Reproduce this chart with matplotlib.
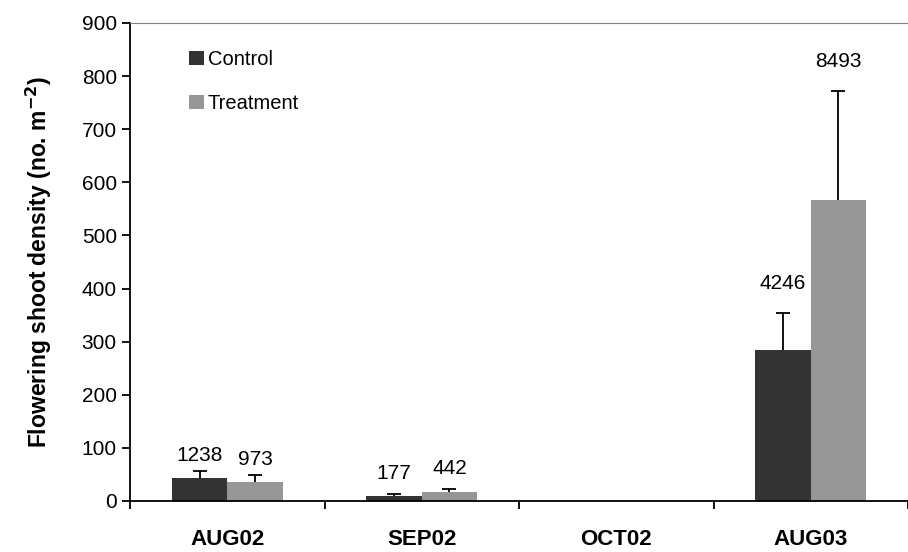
import numpy as np
import matplotlib.pyplot as plt

plt.rcParams['font.family'] = ['Liberation Sans', 'DejaVu Sans']
plt.rcParams['mathtext.default'] = 'regular'

# data
months = ['AUG02', 'SEP02', 'OCT02', 'AUG03']
control = [43, 9, 0.4, 284]
control_err = [13, 4, 0, 70]
treatment = [36, 17, 0.4, 567]
treatment_err = [13, 6, 0, 205]
control_labels = ['1238', '177', '', '4246']
treatment_labels = ['973', '442', '', '8493']

fig = plt.figure(figsize=(9.08, 5.52), dpi=100)
ax = fig.add_axes([130 / 908, 51 / 552, 778 / 908, 478 / 552])

x = np.arange(len(months))
w = 0.285
ax.bar(x - w / 2, control, w, color='#333333', label='Control', zorder=2)
ax.bar(x + w / 2, treatment, w, color='#969696', label='Treatment', zorder=2)

# upper error bars only
for xs, vals, errs in [(x - w / 2, control, control_err), (x + w / 2, treatment, treatment_err)]:
    keep = np.array(errs) > 0
    eb = ax.errorbar(xs[keep], np.array(vals)[keep], yerr=[np.zeros(keep.sum()), np.array(errs)[keep]],
                     fmt='none', ecolor='black', elinewidth=1.3, capsize=5, capthick=1.3, zorder=3)
    eb[1][0].set_visible(False)

# numbers above the bars (gap grows a bit for the tall group, as in the original)
gaps = [12, 20, 0, 38]
for i in range(len(months)):
    if control_labels[i]:
        ax.text(x[i] - w / 2, control[i] + control_err[i] + gaps[i], control_labels[i],
                ha='center', va='bottom', fontsize=15)
    if treatment_labels[i]:
        ax.text(x[i] + w / 2, treatment[i] + treatment_err[i] + gaps[i], treatment_labels[i],
                ha='center', va='bottom', fontsize=15)

ax.set_ylim(0, 900)
ax.set_xlim(-0.5, -0.5 + 778 / 197)
ax.set_yticks(range(0, 1000, 100))
ax.tick_params(axis='y', labelsize=15, direction='out', length=6, width=1.3)

ax.set_xticks(x)
ax.set_xticklabels(months, fontsize=16, fontweight='bold')
ax.tick_params(axis='x', which='major', length=0, pad=20)
ax.set_xticks(np.arange(-0.5, 3.6, 1), minor=True)
ax.tick_params(axis='x', which='minor', direction='out', length=6, width=1.3)

ax.set_ylabel('Flowering shoot density (no. m$^{\\mathbf{ -2}}$)', fontsize=16.5, fontweight='bold', labelpad=20)

ax.spines['right'].set_visible(False)
ax.spines['top'].set_color('#808080')
ax.spines['left'].set_linewidth(1.3)
ax.spines['bottom'].set_linewidth(1.3)

ax.legend(loc='upper left', bbox_to_anchor=(0.065, 0.96), frameon=False, fontsize=14.5,
          handlelength=0.75, handleheight=0.7, handletextpad=0.2, labelspacing=1.25,
          borderaxespad=0)

fig.savefig('out.png', dpi=100)
